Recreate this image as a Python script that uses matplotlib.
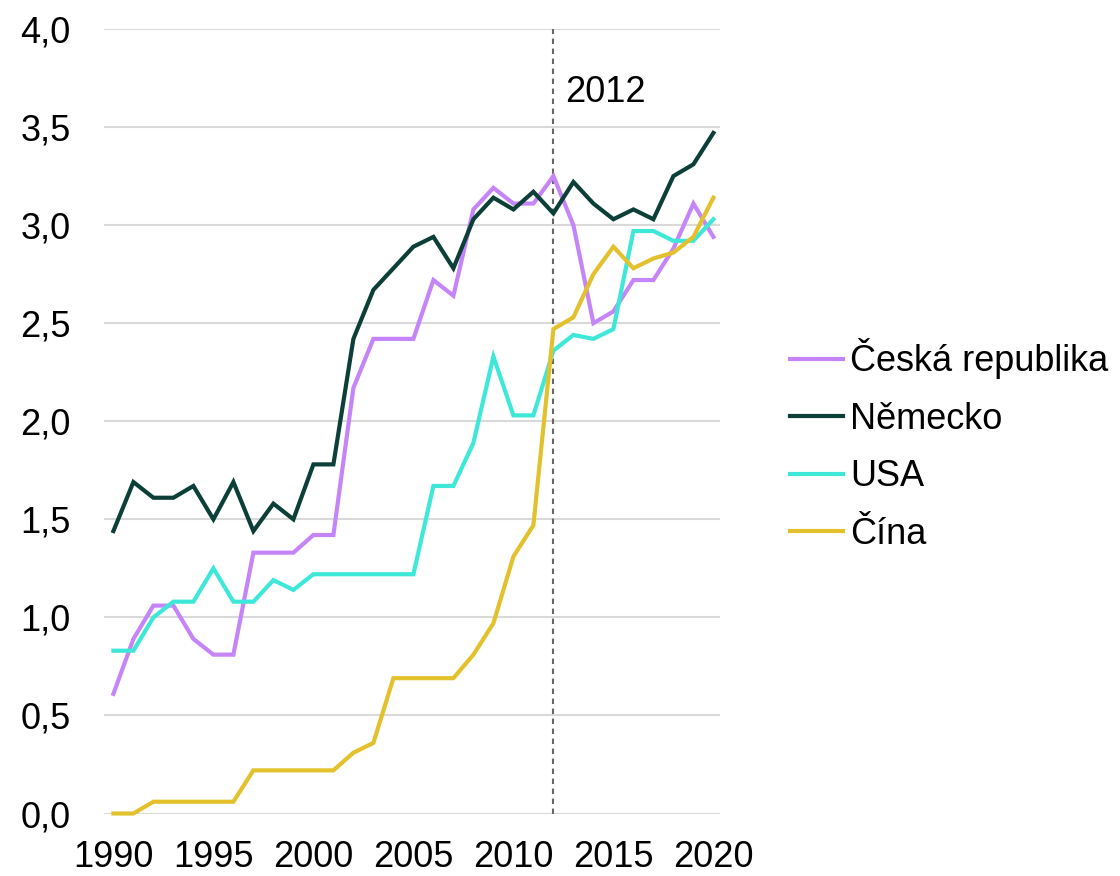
import matplotlib
matplotlib.use('Agg')
import matplotlib.pyplot as plt
from matplotlib.ticker import FuncFormatter

plt.rcParams['font.family'] = ['Liberation Sans', 'DejaVu Sans']

years = list(range(1990, 2021))

cesko = [0.61, 0.89, 1.06, 1.06, 0.89, 0.81, 0.81, 1.33, 1.33, 1.33, 1.42, 1.42,
         2.17, 2.42, 2.42, 2.42, 2.72, 2.64, 3.08, 3.19, 3.11, 3.11, 3.25, 3.00,
         2.50, 2.56, 2.72, 2.72, 2.88, 3.11, 2.94]
nemecko = [1.44, 1.69, 1.61, 1.61, 1.67, 1.50, 1.69, 1.44, 1.58, 1.50, 1.78, 1.78,
           2.42, 2.67, 2.78, 2.89, 2.94, 2.78, 3.03, 3.14, 3.08, 3.17, 3.06, 3.22,
           3.11, 3.03, 3.08, 3.03, 3.25, 3.31, 3.47]
usa = [0.83, 0.83, 1.00, 1.08, 1.08, 1.25, 1.08, 1.08, 1.19, 1.14, 1.22, 1.22,
       1.22, 1.22, 1.22, 1.22, 1.67, 1.67, 1.89, 2.33, 2.03, 2.03, 2.36, 2.44,
       2.42, 2.47, 2.97, 2.97, 2.92, 2.92, 3.03]
cina = [0.00, 0.00, 0.06, 0.06, 0.06, 0.06, 0.06, 0.22, 0.22, 0.22, 0.22, 0.22,
        0.31, 0.36, 0.69, 0.69, 0.69, 0.69, 0.81, 0.97, 1.31, 1.47, 2.47, 2.53,
        2.75, 2.89, 2.78, 2.83, 2.86, 2.94, 3.14]

series = [
    ('Česká republika', cesko, '#C585F9'),
    ('Německo', nemecko, '#0B3F38'),
    ('USA', usa, '#3DE8D8'),
    ('Čína', cina, '#E3C12C'),
]

fs = 26

fig = plt.figure(figsize=(11.2, 8.76), dpi=100)
ax = fig.add_axes([104 / 1120, 62.5 / 876, 616 / 1120, 784.5 / 876])

for name, vals, col in series:
    ax.plot(years, vals, color=col, lw=3.0, label=name, clip_on=False,
            solid_joinstyle='miter', zorder=3)

# vertical marker for 2012
ax.axvline(2012, color='#666666', lw=1.5, linestyle=(0, (2.6, 2.2)), zorder=2)
ax.text(2012.58, 3.63, '2012', fontsize=fs, ha='left', va='baseline')

ax.set_xlim(1989.53, 2020.33)
ax.set_ylim(0, 4)
ax.set_xticks(range(1990, 2021, 5))
ax.set_yticks([0, 0.5, 1, 1.5, 2, 2.5, 3, 3.5, 4])
ax.yaxis.set_major_formatter(FuncFormatter(lambda v, p: f'{v:.1f}'.replace('.', ',')))
ax.grid(axis='y', color='#D9D9D9', lw=1.5, zorder=0)
ax.set_axisbelow(True)
for s in ax.spines.values():
    s.set_visible(False)
ax.tick_params(axis='y', length=0, pad=24, labelsize=fs)
ax.tick_params(axis='x', length=0, pad=19, labelsize=fs)

fig.legend(loc='center left', bbox_to_anchor=(790 / 1120, 1 - 445 / 876),
           frameon=False, fontsize=fs, borderpad=0, borderaxespad=0,
           handlelength=1.46, handletextpad=0.2, labelspacing=0.62)

fig.savefig('out.png', dpi=100)
